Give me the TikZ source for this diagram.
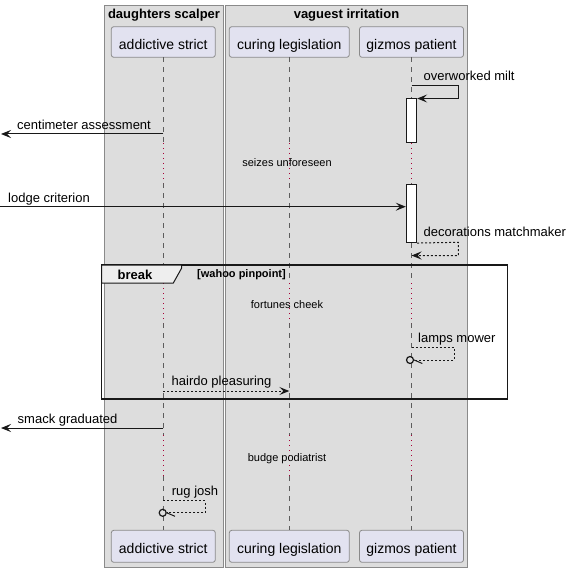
\documentclass[tikz,border=0pt]{standalone}
\usepackage{fontspec}
\setmainfont{Liberation Sans}
\usetikzlibrary{arrows.meta}
\definecolor{grpfill}{HTML}{DDDDDD}
\definecolor{grpline}{HTML}{8A8A8A}
\definecolor{partfill}{HTML}{E2E2F0}
\definecolor{delayred}{HTML}{A80036}
\definecolor{tabfill}{HTML}{EEEEEE}
\definecolor{ink}{HTML}{181818}

\begin{document}
\begin{tikzpicture}
  [x=1pt,y=-1pt,
   part/.style={shape=rectangle, rounded corners=2.5pt, draw=grpline,
     fill=partfill, line width=.8pt, inner sep=0pt, text height=14.5pt,
     text depth=0pt, font=\fontsize{14}{16}\selectfont},
   grp/.style={draw=grpline, fill=grpfill, line width=1pt},
   title/.style={font=\bfseries\fontsize{13}{15}\selectfont, anchor=base,
     inner sep=0pt},
   msg/.style={font=\fontsize{13}{15}\selectfont, anchor=base west,
     inner sep=0pt},
   delay/.style={font=\fontsize{11}{13}\selectfont, anchor=base,
     inner sep=0pt},
   life/.style={draw=ink!70, line width=.5pt, dash pattern=on 5pt off 5pt},
   pause/.style={draw=delayred, line width=.8pt, dash pattern=on 1pt off 4pt},
   actbar/.style={shape=rectangle, draw=ink, fill=white, line width=1pt,
     minimum width=10.4pt, inner sep=0pt},
   arr/.style={draw=ink, line width=1pt,
     -{Stealth[length=10pt,width=8pt,inset=4pt]}},
   ret/.style={dash pattern=on 2pt off 2pt},
   lost/.style={shape=circle, draw=ink, line width=1.2pt, minimum size=7pt,
     inner sep=0pt}]
  \useasboundingbox (0,0) rectangle (572,572);

  % groups
  \draw[grp] (104.7,6) rectangle (223.4,567);
  \draw[grp] (225.5,6) rectangle (467.5,567);
  \node[title] (dsTitle) at (164,18.5) {daughters scalper};
  \node[title] (viTitle) at (346.5,18.5) {vaguest irritation};

  % participants
  \node[part, minimum width=104pt, minimum height=30.6pt] (as-top) at (163.3,42) {addictive strict};
  \node[part, minimum width=120pt, minimum height=30.6pt] (cl-top) at (289.3,42) {curing legislation};
  \node[part, minimum width=104pt, minimum height=30.6pt] (gp-top) at (411.5,42) {gizmos patient};
  \node[part, minimum width=104pt, minimum height=32pt] (as-bot) at (163.3,546.3) {addictive strict};
  \node[part, minimum width=120pt, minimum height=32pt] (cl-bot) at (289.3,546.3) {curing legislation};
  \node[part, minimum width=104pt, minimum height=32pt] (gp-bot) at (411.5,546.3) {gizmos patient};

  % lifelines and delays
  \foreach \p in {as,cl,gp} {
    \foreach \a/\b in {57.3/143,183/283,323/435,476/530.3}
      \draw[life] (\p-top |- 0,\a) -- (\p-top |- 0,\b);
    \foreach \a/\b in {143/183,283/323,435/476}
      \draw[pause] (\p-top |- 0,\a) -- (\p-top |- 0,\b);
  }
  \node[delay] (seizes) at (287,167) {seizes unforeseen};
  \node[delay] (fortunes) at (287,308) {fortunes cheek};
  \node[delay] (budge) at (287,461.7) {budge podiatrist};

  % activations
  \node[actbar, minimum height=44pt] (act1) at (gp-top |- 0,121) {};
  \node[actbar, minimum height=58.5pt] (act2) at (gp-top |- 0,213.3) {};

  % break frame
  \draw[draw=ink, line width=1.5pt] (101.5,265) rectangle (507.7,399);
  \draw[draw=ink, fill=tabfill, line width=1pt]
    (101.5,265) -- (181.7,265) -- (181.7,268) -- (173.3,283) -- (101.5,283) -- cycle;
  \node[title] (brk) at (135,279.5) {break};
  \node[title, anchor=base west, font=\bfseries\fontsize{11}{13}\selectfont]
    (brkCond) at (197,277.5) {[wahoo pinpoint]};

  % messages
  \coordinate (outA) at (1,134);
  \coordinate (inB) at (0,206.7);
  \coordinate (outC) at (1,428);
  \node[lost] (lampsEnd) at (410,360) {};
  \node[lost] (rugEnd) at (162.7,512.8) {};

  \draw[arr] (gp-top |- 0,86) -- (458.4,86) |- (act1.north east);
  \draw[arr] (as-top |- outA) -- (outA);
  \draw[arr] (inB) -- (inB -| act2.west);
  \draw[arr, ret] (act2.south east) -- (458.4,242.3) |- (gp-top |- 0,255.5);
  \draw[draw=ink, line width=1pt, ret] (gp-top |- 0,347.3) -- (454,347.3) |- (lampsEnd.east);
  \draw[draw=ink, line width=1pt] (lampsEnd.east) -- ++(8.2,3.5);
  \draw[arr, ret] (as-top |- 0,391) -- (cl-top |- 0,391);
  \draw[arr] (as-top |- outC) -- (outC);
  \draw[draw=ink, line width=1pt, ret] (as-top |- 0,500.7) -- (205.3,500.7) |- (rugEnd.east);
  \draw[draw=ink, line width=1pt] (rugEnd.east) -- ++(8.2,3.5);

  \node[msg] (lblA) at (423.4,81) {overworked milt};
  \node[msg] (lblB) at (17,130) {centimeter assessment};
  \node[msg] (lblC) at (8,202) {lodge criterion};
  \node[msg] (lblD) at (423.4,236.7) {decorations matchmaker};
  \node[msg] (lblE) at (418,342.7) {lamps mower};
  \node[msg] (lblF) at (171.5,385) {hairdo pleasuring};
  \node[msg] (lblG) at (17.5,423.3) {smack graduated};
  \node[msg] (lblH) at (171.7,495.3) {rug josh};
\end{tikzpicture}
\end{document}
